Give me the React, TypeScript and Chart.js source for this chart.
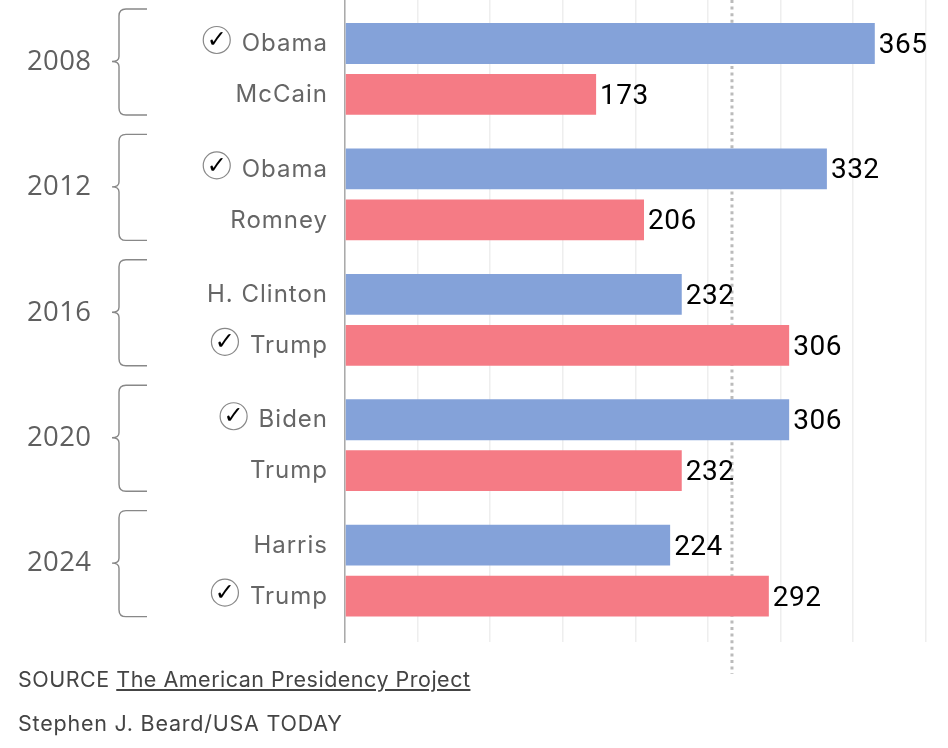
import React, { useEffect, useRef } from "react";
import { Chart, registerables } from "chart.js";

Chart.register(...registerables);

const years = ["2008", "2012", "2016", "2020", "2024"];
const demNames = ["Obama", "Obama", "H. Clinton", "Biden", "Harris"];
const repNames = ["McCain", "Romney", "Trump", "Trump", "Trump"];
const demVotes = [365, 332, 232, 306, 224];
const repVotes = [173, 206, 306, 232, 292];
const demWon = [true, true, false, true, false];
const repWon = [false, false, true, false, true];
const gridTicks = [0, 50, 100, 150, 200, 250, 300, 350, 400];
const groupTicks = [0, 1, 2, 3, 4];
const thresholdMark = 266.6;

const BLUE = "#84a2d9";
const RED = "#f57b85";
const LABEL_FONT = "Inter";
const VALUE_FONT = "Roboto";

const overlay = {
  id: "overlay",
  beforeDatasetsDraw(chart: any) {
    const { ctx, scales } = chart;
    const x = scales.x.getPixelForValue(thresholdMark);
    ctx.save();
    ctx.strokeStyle = "#bbbbbb";
    ctx.lineWidth = 3;
    ctx.setLineDash([3, 3.6]);
    ctx.beginPath();
    ctx.moveTo(x, 0);
    ctx.lineTo(x, 674);
    ctx.stroke();
    ctx.restore();
  },
  afterDatasetsDraw(chart: any) {
    const { ctx, scales } = chart;
    const xs = scales.x;
    const left = xs.left;
    ctx.save();
    ctx.textBaseline = "middle";

    chart.data.datasets.forEach((ds: any, di: number) => {
      const meta = chart.getDatasetMeta(di);
      meta.data.forEach((bar: any, i: number) => {
        const v = ds.data[i].x;
        const cy = bar.y;
        ctx.font = `28px ${VALUE_FONT}`;
        ctx.letterSpacing = "0.5px";
        ctx.fillStyle = "#000";
        ctx.textAlign = "left";
        ctx.fillText(String(v), bar.x + 4, cy + 2.5);

        const name = (di === 0 ? demNames : repNames)[i];
        const won = (di === 0 ? demWon : repWon)[i];
        ctx.font = `24px ${LABEL_FONT}`;
        ctx.letterSpacing = "1px";
        ctx.fillStyle = "#666";
        ctx.textAlign = "right";
        const tr = left - 17;
        ctx.fillText(name, tr, cy + 0.5);
        if (won) {
          const w = ctx.measureText(name).width;
          const c = tr - w - 25;
          ctx.strokeStyle = "#888";
          ctx.lineWidth = 1.2;
          ctx.beginPath();
          ctx.arc(c, cy - 3.5, 13.5, 0, Math.PI * 2);
          ctx.stroke();
          ctx.font = `24px "DejaVu Sans"`;
          ctx.letterSpacing = "0px";
          ctx.fillStyle = "#000";
          ctx.textAlign = "center";
          ctx.fillText("\u2713", c, cy - 2.5);
        }
      });
    });

    years.forEach((yr, i) => {
      const cy = scales.y.getPixelForValue(i);
      ctx.font = `27.5px "Open Sans"`;
      ctx.letterSpacing = "0.4px";
      ctx.fillStyle = "#5f5f5f";
      ctx.textAlign = "left";
      ctx.fillText(yr, 27, cy - 7);

      const top = cy - 60;
      const bottom = cy + 46;
      const mid = cy - 7.5;
      const sx = 119;
      const ex = 147;
      const r = 7;
      ctx.strokeStyle = "#888";
      ctx.lineWidth = 1.4;
      ctx.beginPath();
      ctx.moveTo(ex, top);
      ctx.lineTo(sx + r, top);
      ctx.quadraticCurveTo(sx, top, sx, top + r);
      ctx.lineTo(sx, mid - 5);
      ctx.quadraticCurveTo(sx, mid, sx - 7, mid);
      ctx.quadraticCurveTo(sx, mid, sx, mid + 5);
      ctx.lineTo(sx, bottom - r);
      ctx.quadraticCurveTo(sx, bottom, sx + r, bottom);
      ctx.lineTo(ex, bottom);
      ctx.stroke();
    });
    ctx.restore();
  },
};

const footStyle: React.CSSProperties = {
  position: "absolute",
  left: 18,
  fontFamily: LABEL_FONT,
  fontSize: 21.5,
  color: "#444",
  whiteSpace: "nowrap",
  lineHeight: "26px",
};

export default function App() {
  const ref = useRef<HTMLCanvasElement>(null);

  useEffect(() => {
    document.body.style.margin = "0";
    const chart = new Chart(ref.current!, {
      type: "bar",
      data: {
        datasets: [
          {
            label: "Democrat",
            data: demVotes.map((v, i) => ({ x: v, y: i })),
            backgroundColor: BLUE,
          },
          {
            label: "Republican",
            data: repVotes.map((v, i) => ({ x: v, y: i })),
            backgroundColor: RED,
          },
        ],
      },
      options: {
        indexAxis: "y",
        animation: false,
        responsive: false,
        devicePixelRatio: 1,
        layout: { padding: { left: 345, right: 22.4, top: 0, bottom: 106 } },
        datasets: { bar: { categoryPercentage: 0.813, barPercentage: 0.8 } },
        plugins: { legend: { display: false }, tooltip: { enabled: false } },
        scales: {
          x: {
            type: "linear",
            min: 0,
            max: 400,
            afterBuildTicks: (axis: any) => {
              axis.ticks = gridTicks.map((value) => ({ value }));
            },
            grid: { color: "#eeeeee", lineWidth: 1.5, drawTicks: false },
            border: { display: false },
            ticks: { display: false },
          },
          y: {
            type: "linear",
            reverse: true,
            offset: false,
            min: -0.55,
            max: 4.569,
            afterBuildTicks: (axis: any) => {
              axis.ticks = groupTicks.map((value) => ({ value }));
            },
            grid: { display: false, drawTicks: false, offset: false },
            border: { display: true, color: "#aaaaaa", width: 1.5 },
            ticks: { display: false },
          },
        },
      },
      plugins: [overlay],
    } as any);
    return () => chart.destroy();
  }, []);

  return (
    <div style={{ position: "relative", width: 948, height: 748 }}>
      <canvas ref={ref} width={948} height={748} style={{ display: "block" }} />
      <div style={{ ...footStyle, top: 666, letterSpacing: "0.5px" }}>
        SOURCE{" "}
        <span style={{ textDecoration: "underline" }}>The American Presidency Project</span>
      </div>
      <div style={{ ...footStyle, top: 710, letterSpacing: "0.77px" }}>Stephen J. Beard/USA TODAY</div>
    </div>
  );
}
